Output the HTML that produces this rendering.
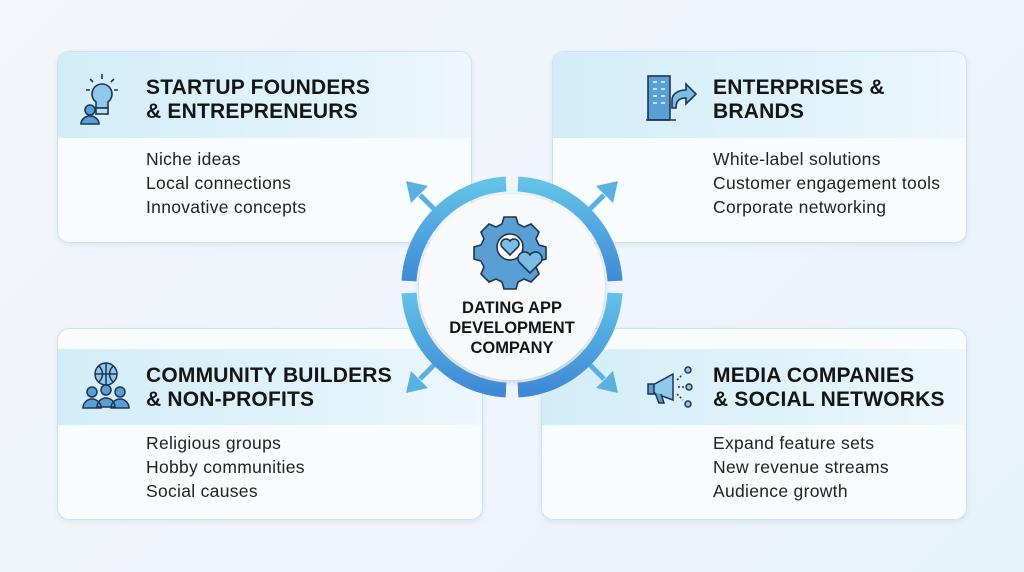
<!DOCTYPE html>
<html><head><meta charset="utf-8"><style>
*{margin:0;padding:0;box-sizing:border-box}
body{width:1024px;height:572px;overflow:hidden;background:linear-gradient(135deg,#f3f6fb 0%,#eef4fa 60%,#e6f3fa 100%);font-family:"Liberation Sans",sans-serif;position:relative}
.card{position:absolute;background:#f9fcfe;border:1px solid #cfe2ec;border-radius:12px;overflow:hidden;box-shadow:0 2px 6px rgba(120,150,180,.15)}
.band{position:absolute;left:0;right:0;background:linear-gradient(90deg,#d3edf8,#e2f4fb 70%,#eef7fb)}
.t{position:absolute;font-weight:bold;font-size:21px;line-height:24px;color:#151515;letter-spacing:0.2px}
.b{position:absolute;font-size:17.5px;line-height:24px;color:#222;letter-spacing:0.3px}
.ic{position:absolute}
</style></head><body>
<div class="card" style="left:57px;top:51px;width:415px;height:192px"><div class="band" style="top:0;height:86px"></div></div>
<div class="card" style="left:552px;top:51px;width:415px;height:192px"><div class="band" style="top:0;height:86px"></div></div>
<div class="card" style="left:57px;top:328px;width:426px;height:192px"><div class="band" style="top:20px;height:76px"></div></div>
<div class="card" style="left:541px;top:328px;width:426px;height:192px"><div class="band" style="top:20px;height:76px"></div></div>

<div class="t" style="left:146px;top:76px">STARTUP FOUNDERS<br>&amp; ENTREPRENEURS</div>
<div class="b" style="left:146px;top:147px">Niche ideas<br>Local connections<br>Innovative concepts</div>
<div class="t" style="left:713px;top:76px">ENTERPRISES &amp;<br>BRANDS</div>
<div class="b" style="left:713px;top:147px">White-label solutions<br>Customer engagement tools<br>Corporate networking</div>
<div class="t" style="left:146px;top:364px">COMMUNITY BUILDERS<br>&amp; NON-PROFITS</div>
<div class="b" style="left:146px;top:431px">Religious groups<br>Hobby communities<br>Social causes</div>
<div class="t" style="left:713px;top:364px">MEDIA COMPANIES<br>&amp; SOCIAL NETWORKS</div>
<div class="b" style="left:713px;top:431px">Expand feature sets<br>New revenue streams<br>Audience growth</div>

<!-- icons -->
<svg class="ic" style="left:78px;top:72px" width="50" height="56" viewBox="0 0 50 56" stroke="#1e3550" stroke-width="1.6" fill="#8fc8ea">
<path d="M24 12a10 10 0 0 0-6 18v6h12v-6a10 10 0 0 0-6-18z"/><rect x="18" y="36" width="12" height="6" fill="#bcdff2"/>
<path d="M24 2v5M12 7l3 3M36 7l-3 3M8 18h4M36 18h4" fill="none"/>
<circle cx="12" cy="38" r="5" fill="#5a9fd4"/><path d="M3 52a9 8 0 0 1 18 0z" fill="#5a9fd4"/></svg>
<svg class="ic" style="left:644px;top:72px" width="56" height="52" viewBox="0 0 56 52" stroke="#1e3550" stroke-width="1.6">
<rect x="4" y="4" width="22" height="44" fill="#5a9fd4"/><path d="M9 10h4M17 10h4M9 17h4M17 17h4M9 24h4M17 24h4M9 31h4M17 31h4" stroke="#dff"/>
<path d="M28 36v-8c0-6 6-10 14-10v-6l10 10-10 10v-6c-6 0-10 2-10 10z" fill="#7bbde6"/><path d="M2 48h30"/></svg>
<svg class="ic" style="left:80px;top:360px" width="52" height="52" viewBox="0 0 52 52" stroke="#1e3550" stroke-width="1.5" fill="#5a9fd4">
<circle cx="26" cy="14" r="11" fill="#8fc8ea"/><path d="M15 14h22M26 3v22M19 6q7 8 0 16M33 6q-7 8 0 16" fill="none"/>
<circle cx="12" cy="32" r="5"/><circle cx="26" cy="30" r="5"/><circle cx="40" cy="32" r="5"/>
<path d="M3 48a9 9 0 0 1 18 0zM17 47a9 9 0 0 1 18 0zM31 48a9 9 0 0 1 18 0z"/></svg>
<svg class="ic" style="left:645px;top:360px" width="56" height="52" viewBox="0 0 56 52" stroke="#1e3550" stroke-width="1.5" fill="#5a9fd4">
<path d="M6 26l22-12v26L6 32z" fill="#8fc8ea"/><rect x="3" y="24" width="6" height="10"/><path d="M10 33l4 10h5l-3-9"/>
<path d="M32 20l6-6M33 27h6M32 34l6 6" fill="none" stroke-dasharray="2 2"/>
<circle cx="43" cy="10" r="3" fill="#8fc8ea"/><circle cx="44" cy="27" r="3" fill="#8fc8ea"/><circle cx="43" cy="44" r="3" fill="#8fc8ea"/></svg>

<!-- center -->
<svg style="position:absolute;left:392px;top:167px" width="240" height="240" viewBox="-120 -120 240 240">
<defs><linearGradient id="g" x1="0" y1="0" x2="0" y2="1"><stop offset="0" stop-color="#62c2e8"/><stop offset="1" stop-color="#3f8ad6"/></linearGradient>
<filter id="s" x="-20%" y="-20%" width="140%" height="140%"><feDropShadow dx="0" dy="2" stdDeviation="3" flood-color="#6a8aa8" flood-opacity=".35"/></filter></defs>
<g stroke="#5ab0e0" stroke-width="5" fill="#5ab0e0">
<line x1="-70" y1="-70" x2="-92" y2="-92"/><polygon points="-106,-106 -84,-101 -101,-84" stroke="none"/>
<line x1="70" y1="-70" x2="92" y2="-92"/><polygon points="106,-106 84,-101 101,-84" stroke="none"/>
<line x1="-70" y1="70" x2="-92" y2="92"/><polygon points="-106,106 -84,101 -101,84" stroke="none"/>
<line x1="70" y1="70" x2="92" y2="92"/><polygon points="106,106 84,101 101,84" stroke="none"/>
</g>
<g fill="none" stroke="url(#g)" stroke-width="15">
<path d="M-103,-6 A103 103 0 0 1 -6,-103"/><path d="M6,-103 A103 103 0 0 1 103,-6"/>
<path d="M103,6 A103 103 0 0 1 6,103"/><path d="M-6,103 A103 103 0 0 1 -103,6"/>
</g>
<circle r="93" fill="#f8f9fb" filter="url(#s)"/>
<g transform="translate(-2,-40)" stroke="#1e3550" stroke-width="1.6">
<path d="M-6,-30h12l2,7 6,3 7-3 8,8-3,7 3,6 7,2v12l-7,2-3,6 3,7-8,8-7-3-6,3-2,7h-12l-2-7-6-3-7,3-8-8 3-7-3-6-7-2v-12l7-2 3-6-3-7 8-8 7,3 6-3z" fill="#5a9fd4"/>
<circle r="13" fill="#fff"/><path d="M0,8l-8-8a5 5 0 0 1 8-6a5 5 0 0 1 8 6z" fill="#7bbde6"/>
<path d="M20,26l-11-11a6 6 0 0 1 11-7a6 6 0 0 1 11 7z" fill="#7bbde6"/></g>
<g font-family="Liberation Sans" font-weight="bold" font-size="16.5" fill="#151515" text-anchor="middle">
<text y="26">DATING APP</text><text y="46">DEVELOPMENT</text><text y="66">COMPANY</text></g>
</svg>
</body></html>
